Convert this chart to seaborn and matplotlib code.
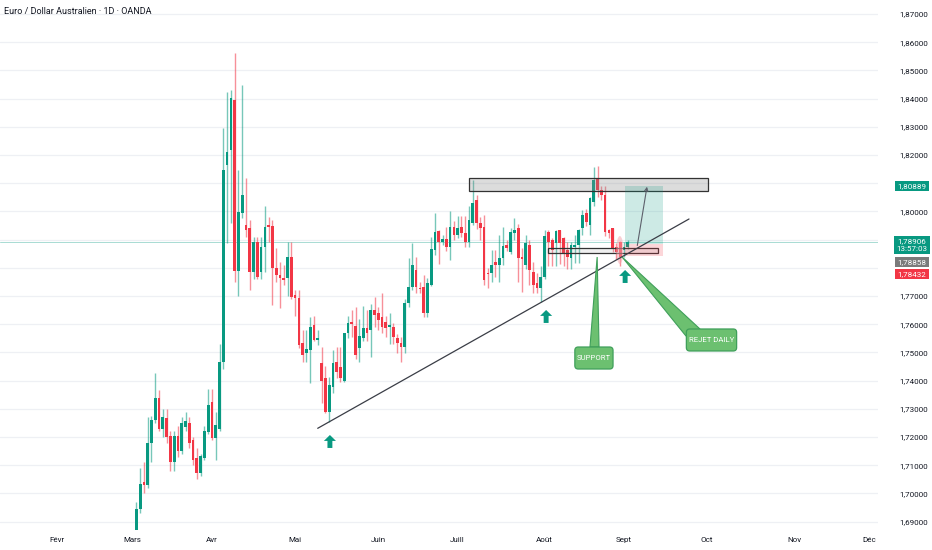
import numpy as np
import pandas as pd
import matplotlib.pyplot as plt
import seaborn as sns
from matplotlib.patches import Rectangle, Polygon, FancyBboxPatch, Ellipse

# -----------------------------
# Data (EUR/AUD daily candles)
# -----------------------------
first_bar = 21  # bar index of the first visible candle (Feb 3 = 0)

opens = [
    1.6860, 1.6946, 1.7040, 1.7030, 1.7180, 1.7260, 1.7337, 1.7230, 1.7266, 1.7205,
    1.7110, 1.7205, 1.7150, 1.7235, 1.7248, 1.7188, 1.7124, 1.7074, 1.7127, 1.7216,
    1.7323, 1.7195, 1.7230, 1.7465, 1.8164, 1.8217, 1.8395, 1.7790, 1.7994, 1.7950,
    1.7940, 1.7784, 1.7890, 1.7784, 1.7873, 1.7952, 1.7947, 1.7798, 1.7775, 1.7763,
    1.7763, 1.7837, 1.7702, 1.7692, 1.7532, 1.7497, 1.7507, 1.7596, 1.7543, 1.7461,
    1.7408, 1.7287, 1.7376, 1.7465, 1.7447, 1.7400, 1.7567, 1.7607, 1.7592, 1.7514,
    1.7550, 1.7585, 1.7578, 1.7649, 1.7638, 1.7624, 1.7607, 1.7590, 1.7589, 1.7550,
    1.7532, 1.7518, 1.7674, 1.7731, 1.7791, 1.7729, 1.7731, 1.7638, 1.7738, 1.7862,
    1.7930, 1.7890, 1.7901, 1.7873, 1.7944, 1.7916, 1.7944, 1.7922, 1.7890, 1.7958,
    1.8040, 1.7958, 1.7944, 1.7782, 1.7780, 1.7820, 1.7809, 1.7834, 1.7880, 1.7855,
    1.7922, 1.7940, 1.7837, 1.7809, 1.7880, 1.7784, 1.7745, 1.7727, 1.7766, 1.7926,
    1.7898, 1.7887, 1.7933, 1.7905, 1.7862, 1.7834, 1.7873, 1.7880, 1.7940, 1.7994,
    1.7951, 1.8033, 1.8118, 1.8075, 1.8057, 1.7933, 1.7940, 1.7873, 1.7890, 1.7862,
    1.7873,
]
highs = [
    1.6970, 1.7090, 1.7110, 1.7270, 1.7276, 1.7426, 1.7365, 1.7300, 1.7300, 1.7220,
    1.7220, 1.7240, 1.7270, 1.7290, 1.7270, 1.7200, 1.7160, 1.7140, 1.7240, 1.7370,
    1.7370, 1.7290, 1.7530, 1.8295, 1.8423, 1.8430, 1.8560, 1.8146, 1.8448, 1.8120,
    1.7970, 1.7910, 1.7910, 1.7910, 1.8018, 1.7980, 1.7970, 1.7870, 1.7820, 1.7810,
    1.7890, 1.7890, 1.7720, 1.7720, 1.7578, 1.7580, 1.7624, 1.7628, 1.7580, 1.7518,
    1.7450, 1.7411, 1.7510, 1.7520, 1.7520, 1.7570, 1.7630, 1.7650, 1.7660, 1.7620,
    1.7665, 1.7650, 1.7670, 1.7695, 1.7660, 1.7710, 1.7628, 1.7638, 1.7605, 1.7565,
    1.7555, 1.7690, 1.7834, 1.7887, 1.7840, 1.7750, 1.7775, 1.7765, 1.7910, 1.7994,
    1.7935, 1.7915, 1.7944, 1.8003, 1.7965, 1.7983, 1.7983, 1.7983, 1.8018, 1.8110,
    1.8057, 1.7980, 1.7987, 1.7800, 1.7862, 1.7862, 1.7916, 1.7944, 1.7900, 1.7940,
    1.7976, 1.7955, 1.7870, 1.7915, 1.7900, 1.7820, 1.7780, 1.7805, 1.7933, 1.7935,
    1.7905, 1.7933, 1.7935, 1.7910, 1.7890, 1.7890, 1.7915, 1.7937, 1.8006, 1.8008,
    1.8050, 1.8157, 1.8162, 1.8090, 1.8090, 1.7937, 1.7942, 1.7887, 1.7895, 1.7892,
    1.7900,
]
lows = [
    1.6840, 1.6930, 1.7000, 1.7020, 1.7110, 1.7250, 1.7220, 1.7200, 1.7180, 1.7080,
    1.7080, 1.7130, 1.7140, 1.7220, 1.7160, 1.7100, 1.7050, 1.7060, 1.7120, 1.7210,
    1.7190, 1.7117, 1.7220, 1.7440, 1.7887, 1.7960, 1.7750, 1.7700, 1.7976, 1.7910,
    1.7720, 1.7760, 1.7760, 1.7760, 1.7784, 1.7890, 1.7667, 1.7750, 1.7656, 1.7740,
    1.7700, 1.7690, 1.7630, 1.7515, 1.7465, 1.7465, 1.7390, 1.7540, 1.7525, 1.7319,
    1.7284, 1.7252, 1.7355, 1.7410, 1.7395, 1.7395, 1.7550, 1.7553, 1.7478, 1.7465,
    1.7540, 1.7540, 1.7482, 1.7590, 1.7580, 1.7570, 1.7555, 1.7530, 1.7530, 1.7497,
    1.7465, 1.7498, 1.7660, 1.7720, 1.7710, 1.7710, 1.7625, 1.7625, 1.7735, 1.7845,
    1.7812, 1.7880, 1.7860, 1.7828, 1.7897, 1.7905, 1.7908, 1.7873, 1.7873, 1.7952,
    1.7937, 1.7897, 1.7740, 1.7727, 1.7748, 1.7766, 1.7750, 1.7810, 1.7860, 1.7850,
    1.7900, 1.7750, 1.7713, 1.7795, 1.7738, 1.7710, 1.7710, 1.7678, 1.7762, 1.7805,
    1.7805, 1.7805, 1.7812, 1.7805, 1.7795, 1.7795, 1.7818, 1.7818, 1.7916, 1.7948,
    1.7916, 1.8020, 1.8050, 1.8040, 1.7912, 1.7905, 1.7855, 1.7830, 1.7808, 1.7840,
    1.7866,
]
closes = [
    1.6946, 1.7035, 1.7030, 1.7180, 1.7260, 1.7337, 1.7230, 1.7270, 1.7200, 1.7110,
    1.7205, 1.7150, 1.7250, 1.7255, 1.7180, 1.7117, 1.7074, 1.7131, 1.7223, 1.7312,
    1.7195, 1.7241, 1.7465, 1.8146, 1.8210, 1.8402, 1.7790, 1.7997, 1.8057, 1.7935,
    1.7784, 1.7890, 1.7767, 1.7873, 1.7944, 1.7944, 1.7798, 1.7773, 1.7765, 1.7756,
    1.7837, 1.7695, 1.7692, 1.7525, 1.7490, 1.7511, 1.7589, 1.7543, 1.7550, 1.7400,
    1.7290, 1.7383, 1.7461, 1.7430, 1.7408, 1.7567, 1.7603, 1.7600, 1.7490, 1.7557,
    1.7585, 1.7570, 1.7649, 1.7631, 1.7614, 1.7589, 1.7585, 1.7597, 1.7553, 1.7532,
    1.7518, 1.7674, 1.7731, 1.7809, 1.7731, 1.7725, 1.7638, 1.7745, 1.7866, 1.7926,
    1.7890, 1.7901, 1.7873, 1.7944, 1.7916, 1.7940, 1.7922, 1.7890, 1.7969, 1.8029,
    1.7958, 1.7940, 1.7756, 1.7778, 1.7809, 1.7809, 1.7834, 1.7876, 1.7869, 1.7926,
    1.7933, 1.7834, 1.7830, 1.7887, 1.7791, 1.7738, 1.7727, 1.7766, 1.7912, 1.7890,
    1.7862, 1.7930, 1.7887, 1.7852, 1.7837, 1.7880, 1.7880, 1.7933, 1.7986, 1.7962,
    1.8047, 1.8111, 1.8075, 1.8057, 1.7926, 1.7922, 1.7869, 1.7855, 1.7837, 1.7873,
    1.7891,
]

month_labels = ["Févr", "Mars", "Avr", "Mai", "Juin", "Juill", "Août", "Sept", "Oct", "Nov", "Déc"]
month_bars = [0, 20, 41, 63, 85, 106, 129, 150, 172, 195, 215]
price_ticks = [1.69, 1.70, 1.71, 1.72, 1.73, 1.74, 1.75, 1.76, 1.77, 1.78,
               1.79, 1.80, 1.81, 1.82, 1.83, 1.84, 1.85, 1.86, 1.87]
hidden_ticks = [1.78, 1.79, 1.81]  # covered by the price tags on the scale

last_price = 1.78906
countdown = "13:57:03"
target_price = 1.80889
entry_price = 1.78858
stop_price = 1.78432

title = "Euro / Dollar Australien · 1D · OANDA"

GREEN = "#089981"
RED = "#f23645"
CALLOUT = "#6cc070"
CALLOUT_EDGE = "#3f9f5a"

df = pd.DataFrame({"open": opens, "high": highs, "low": lows, "close": closes})
df["bar"] = first_bar + np.arange(len(df))
df["up"] = df["close"] >= df["open"]

# -----------------------------
# Figure
# -----------------------------
sns.set_theme(style="white")
plt.rcParams["font.family"] = ["Roboto", "DejaVu Sans"]

fig = plt.figure(figsize=(9.32, 5.5), dpi=100)
ax = fig.add_axes([0, 20 / 550, 878 / 932, 530 / 550])

colors = np.where(df["up"], GREEN, RED)
body_low = np.minimum(df["open"], df["close"])
body_h = np.maximum(np.abs(df["close"] - df["open"]), 0.0004)

ax.vlines(df["bar"], df["low"], df["high"], colors=colors, lw=1.0, alpha=0.55, zorder=2)
ax.bar(df["bar"], body_h, bottom=body_low, width=0.72, color=colors, lw=0, zorder=3)

ax.set_xlim(-15.08, 217.2)
ax.set_ylim(1.68702, 1.87496)

ax.set_yticks(price_ticks)
ax.set_yticklabels(["" if p in hidden_ticks else f"{p:.5f}".replace(".", ",")
                    for p in price_ticks])
ax.yaxis.tick_right()
ax.tick_params(axis="y", length=0, pad=15, labelsize=5.8, labelcolor="#131722")
ax.set_xticks(month_bars)
ax.set_xticklabels(month_labels)
ax.tick_params(axis="x", length=0, pad=5, labelsize=5.8, labelcolor="#131722")
ax.grid(axis="y", color="#eef0f4", lw=0.9)
ax.grid(axis="x", visible=False)
for s in ax.spines.values():
    s.set_visible(False)

# current price line
ax.axhline(last_price, color=GREEN, lw=0.7, alpha=0.35, zorder=1)

# resistance zone
ax.add_patch(Rectangle((109.0, 1.80723), 63.2, 0.00461, fc=(0.55, 0.55, 0.55, 0.3),
                       ec="#333333", lw=0.9, zorder=4))
# support zone
ax.add_patch(Rectangle((129.9, 1.78525), 29.1, 0.0016, fc=(0.6, 0.6, 0.6, 0.15),
                       ec="#333333", lw=0.9, zorder=4))

# long position tool
ax.add_patch(Rectangle((150.3, entry_price), 9.9, target_price - entry_price,
                       fc=GREEN, alpha=0.2, lw=0, zorder=4))
ax.add_patch(Rectangle((150.3, stop_price), 9.9, entry_price - stop_price,
                       fc=RED, alpha=0.2, lw=0, zorder=4))

# highlight on rejection candle
ax.add_patch(Ellipse((148.9, 1.78631), 1.9, 0.0099, fc="#f5a3ab", alpha=0.5, lw=0, zorder=4))

# trendline
ax.plot([68.97, 167.2], [1.72308, 1.79730], color="#3a3d46", lw=0.9, zorder=5)

# projected path
ax.annotate("", xy=(156.2, 1.80972), xytext=(153.4, 1.78691),
            arrowprops=dict(arrowstyle="->", color="#5d606b", lw=0.8, mutation_scale=6),
            zorder=5)


def up_arrow(bar, price):
    hw, sw, hh, th = 1.6, 0.65, 0.0021, 0.0046
    pts = [(bar, price), (bar - hw, price - hh), (bar - sw, price - hh),
           (bar - sw, price - th), (bar + sw, price - th), (bar + sw, price - hh),
           (bar + hw, price - hh)]
    ax.add_patch(Polygon(pts, closed=True, fc=GREEN, ec="none", zorder=6))


up_arrow(72.2, 1.72071)
up_arrow(129.4, 1.76504)
up_arrow(150.3, 1.77922)


def callout(x0, y0, w, h, tip, base, label):
    ax.add_patch(Polygon([tip, base[0], base[1]], closed=True, fc=CALLOUT,
                         ec=CALLOUT_EDGE, lw=0.8, zorder=7))
    ax.add_patch(FancyBboxPatch((x0, y0), w, h, boxstyle="round,pad=0,rounding_size=0.9",
                                mutation_aspect=0.00134, fc=CALLOUT, ec=CALLOUT_EDGE,
                                lw=0.9, zorder=8))
    ax.text(x0 + w / 2, y0 + h / 2, label, color="white", fontsize=5.6,
            ha="center", va="center", zorder=9)


callout(137.0, 1.74411, 10.1, 0.0078, (142.9, 1.78383),
        [(141.0, 1.7519), (143.4, 1.7519)], "SUPPORT")
callout(166.5, 1.75050, 13.3, 0.0078, (149.5, 1.78383),
        [(166.4, 1.7558), (170.1, 1.7583)], "REJET DAILY")

# title
fig.text(4 / 932, 1 - 12 / 550, title, fontsize=6.5, color="#131722", va="center", ha="left")


# price tags on the right scale
def price_tag(y_px, text, color):
    fig.text(912 / 932, 1 - y_px / 550, text, ha="center", va="center", color="white",
             fontsize=5.8, linespacing=1.3,
             bbox=dict(boxstyle="square,pad=0.3", fc=color, ec="none"))


price_tag(186, f"{target_price:.5f}".replace(".", ","), GREEN)
price_tag(245, f"{last_price:.5f}".replace(".", ",") + "\n" + countdown, GREEN)
price_tag(262, f"{entry_price:.5f}".replace(".", ","), "#7b7b7b")
price_tag(274, f"{stop_price:.5f}".replace(".", ","), RED)

fig.savefig("out.png", dpi=100)
plt.close(fig)
